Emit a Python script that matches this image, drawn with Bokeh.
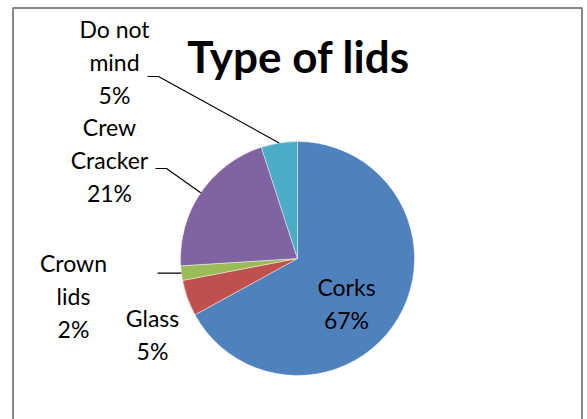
import numpy as np
from bokeh.plotting import figure
from bokeh.models import Range1d
from bokeh.core.properties import value
from bokeh.embed import file_html
from bokeh.resources import INLINE

# ---- data ----
categories = ["Corks", "Glass", "Crown lids", "Crew Cracker", "Do not mind"]
values = [67, 5, 2, 21, 5]
colors = ["#4F81BD", "#C0504D", "#9BBB59", "#8064A2", "#4BACC6"]
label_lines = [["Corks"], ["Glass"], ["Crown", "lids"], ["Crew", "Cracker"], ["Do not", "mind"]]
title = "Type of lids"

W, H = 587, 419


def Y(ypx):
    return H - ypx


p = figure(width=W, height=H, output_backend="svg", toolbar_location=None,
           x_range=Range1d(0, W), y_range=Range1d(0, H), min_border=0)
p.axis.visible = False
p.grid.visible = False
p.outline_line_color = None
p.background_fill_color = "white"
p.border_fill_color = "white"

# chart border
p.quad(left=[12.5], right=[581.5], top=[Y(7.5)], bottom=[-20],
       fill_color=None, line_color="#878787", line_width=2)

# pie
cx, cy, r = 297, Y(258), 117
vals = np.array(values, dtype=float)
frac = vals / vals.sum()
cum = np.concatenate([[0], np.cumsum(frac)])
start = np.pi / 2 - 2 * np.pi * cum[:-1]
end = np.pi / 2 - 2 * np.pi * cum[1:]
p.wedge(x=cx, y=cy, radius=r, start_angle=start, end_angle=end, direction="clock",
        fill_color=colors, line_color="white", line_width=0.6, line_alpha=0.7)

# labels: (center x, first baseline y in px), line spacing
LFS = 23
lshift = 0.38 * LFS
anchors = [(346, 295), (152, 326), (73, 271), (109, 135), (114, 37)]
spacing = 33
tx, ty, tt = [], [], []
for (ax, ay), lines, v in zip(anchors, label_lines, values):
    allines = lines + [f"{v}%"]
    for k, s in enumerate(allines):
        tx.append(ax)
        ty.append(Y(ay + k * spacing - lshift))
        tt.append(s)
p.text(x=tx, y=ty, text=tt, text_align="center", text_baseline="alphabetic",
       text_font=value("Lato"), text_font_size=f"{LFS}px", text_color="black")

# leader lines for small outside slices
mid = 2 * np.pi * (cum[:-1] + cum[1:]) / 2
knees = {4: ((158, 76), (147, 76)), 3: ((166, 168), (155, 168)), 2: (None, (157, 271))}
for i, (knee, endpt) in knees.items():
    ex = cx + r * np.sin(mid[i])
    ey = cy + r * np.cos(mid[i])
    xs = [ex]
    ys = [ey]
    if knee is not None:
        xs.append(knee[0]); ys.append(Y(knee[1]))
        xs.append(endpt[0]); ys.append(Y(endpt[1]))
    else:
        xs.append(endpt[0]); ys.append(ey)
    p.line(xs, ys, line_color="black", line_width=1.2)

# title
TFS = 44
p.text(x=[298], y=[Y(72 - 0.38 * TFS)], text=[title], text_align="center", text_baseline="alphabetic",
       text_font=value("Lato"), text_font_style="bold", text_font_size=f"{TFS}px", text_color="black")

open("out.html", "w").write(file_html(p, INLINE))
